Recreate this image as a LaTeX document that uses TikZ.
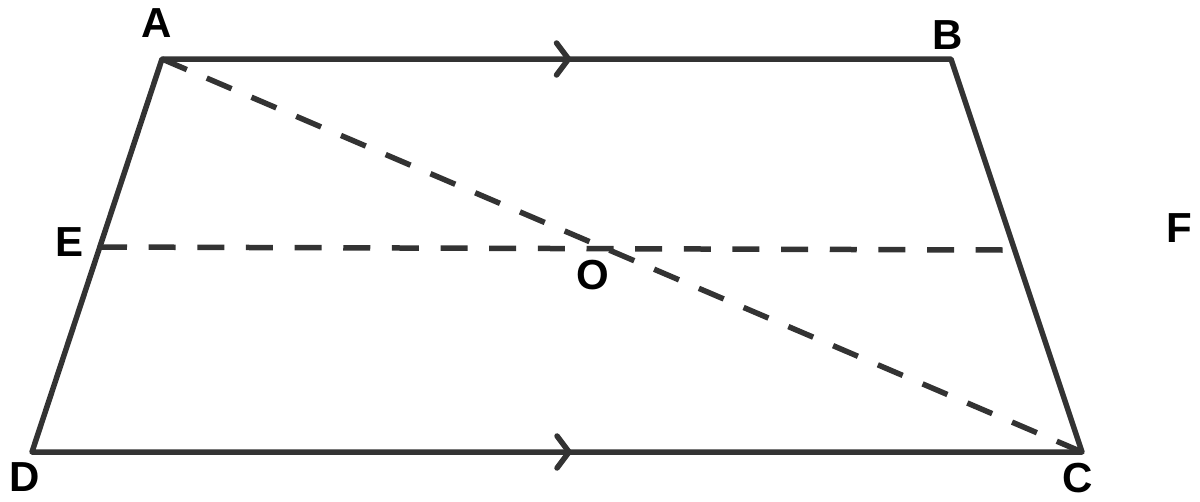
\documentclass[tikz,border=0pt]{standalone}
\usepackage{fontspec}
\setmainfont{Liberation Sans}
\usetikzlibrary{calc,positioning}
\definecolor{edgegray}{HTML}{333333}

\begin{document}
\begin{tikzpicture}[x=1pt,y=-1pt,line width=5.5pt,line join=round,line cap=round,
    side/.style={draw=edgegray},
    dashline/.style={draw=edgegray,line cap=butt,dash pattern=on 27pt off 21.65pt},
    chevron/.style={draw=edgegray},
    point label/.style={font=\bfseries\fontsize{42}{42}\selectfont,inner sep=0pt}]

            \useasboundingbox (0,0) rectangle (1200,501);

            \coordinate (A) at (162,59);
            \coordinate (B) at (951,59);
            \coordinate (C) at (1082,452);
            \coordinate (D) at (32,452);
            \coordinate (E) at (100,247);
            \coordinate (Fend) at (1003,250);

            \node[point label] (lA) at (157,23) {A};
            \node[point label] (lB) at (948,35) {B};
            \node[point label] (lC) at (1078,478) {C};
            \node[point label] (lD) at (25,477) {D};
            \node[point label] (lE) at (70,242) {E};
            \node[point label] (lF) at (1179,228) {F};
            \node[point label] (lO) at (593,275) {O};

            % trapezium
            \draw[side] (A) -- (B) -- (C) -- (D) -- cycle;

            % dashed lines
            \path[dashline]
                (A) edge (C)
                (E) edge (Fend);

            % parallel marks
            \draw[chevron] ($(A)!0.5!(B)$) ++(0,-16) -- ++(12,16) -- ++(-12,16);
            \draw[chevron] ($(D)!0.5!(C)$) ++(0,-16) -- ++(12,16) -- ++(-12,16);
        \end{tikzpicture}
\end{document}
